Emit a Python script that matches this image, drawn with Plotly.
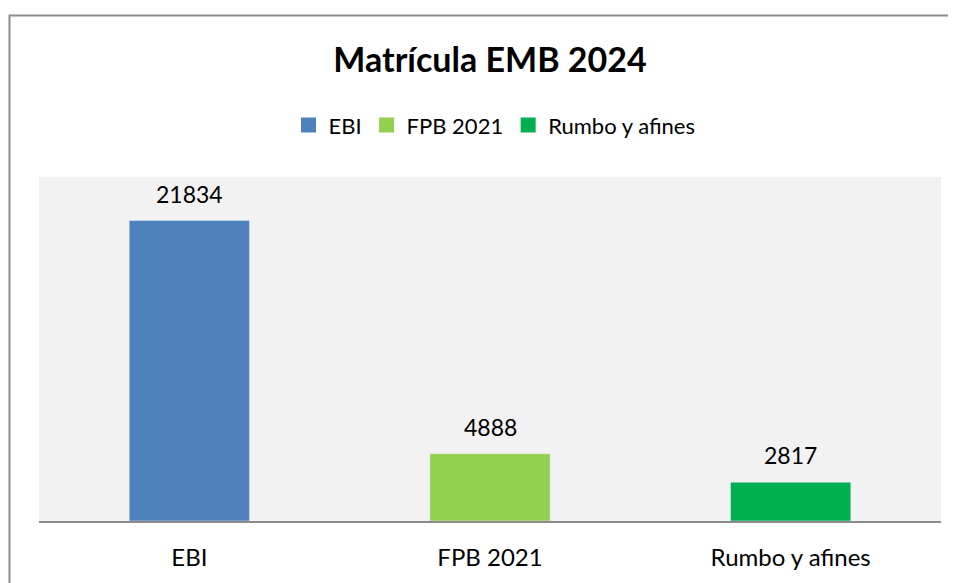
import plotly.graph_objects as go

categories = ["EBI", "FPB 2021", "Rumbo y afines"]
values = [21834, 4888, 2817]
colors = ["#4F81BD", "#92D050", "#00B050"]

FONT = "Lato, Open Sans, sans-serif"

# page body has an 8px margin; figure is sized/offset to compensate
W, H = 948, 575
fig = go.Figure()
for cat, val, col in zip(categories, values, colors):
    fig.add_trace(go.Bar(
        x=[cat], y=[val], name=cat, marker_color=col,
        width=0.4, showlegend=False,
    ))
    fig.add_annotation(
        x=cat, y=val, text=str(val), showarrow=False,
        yanchor="bottom", yshift=11,
        font=dict(family=FONT, size=23, color="#000000"),
    )
# legend entries with square symbols like the reference
for cat, col in zip(categories, colors):
    fig.add_trace(go.Scatter(
        x=[None], y=[None], mode="markers", name=cat,
        marker=dict(symbol="square", size=15, color=col),
        showlegend=True, hoverinfo="skip",
    ))

fig.update_layout(
    width=W, height=H,
    margin=dict(l=31, r=15, t=169, b=60),
    paper_bgcolor="white",
    plot_bgcolor="#F2F2F2",
    barmode="overlay",
    title=dict(
        text="<b>Matrícula EMB 2024</b>",
        x=0.5, xref="paper", xanchor="center",
        y=1 - 52 / H, yref="container", yanchor="middle",
        font=dict(family=FONT, size=34, color="#000000"),
    ),
    legend=dict(
        orientation="h", x=0.505, xanchor="center",
        y=1.0 + (177 - 125) / 346, yanchor="middle",
        font=dict(family=FONT, size=22, color="#000000"),
        itemwidth=30, tracegroupgap=0,
    ),
    xaxis=dict(
        categoryorder="array", categoryarray=categories,
        showline=True, linecolor="#8C8C8C", linewidth=2,
        ticks="", tickfont=dict(family=FONT, size=24, color="#000000"),
        ticklabelstandoff=14,
        showgrid=False, zeroline=False,
    ),
    yaxis=dict(range=[0, 25000], visible=False, showgrid=False, zeroline=False),
    bargap=0.6,
    shapes=[dict(
        type="rect", xref="paper", yref="paper",
        x0=(9.5 - 39) / 902, x1=1.5, y0=-1.0, y1=(523 - 14.5) / 346,
        line=dict(color="#8C8C8C", width=2), fillcolor="rgba(0,0,0,0)",
        layer="below",
    )],
)

fig.write_html("out.html")
